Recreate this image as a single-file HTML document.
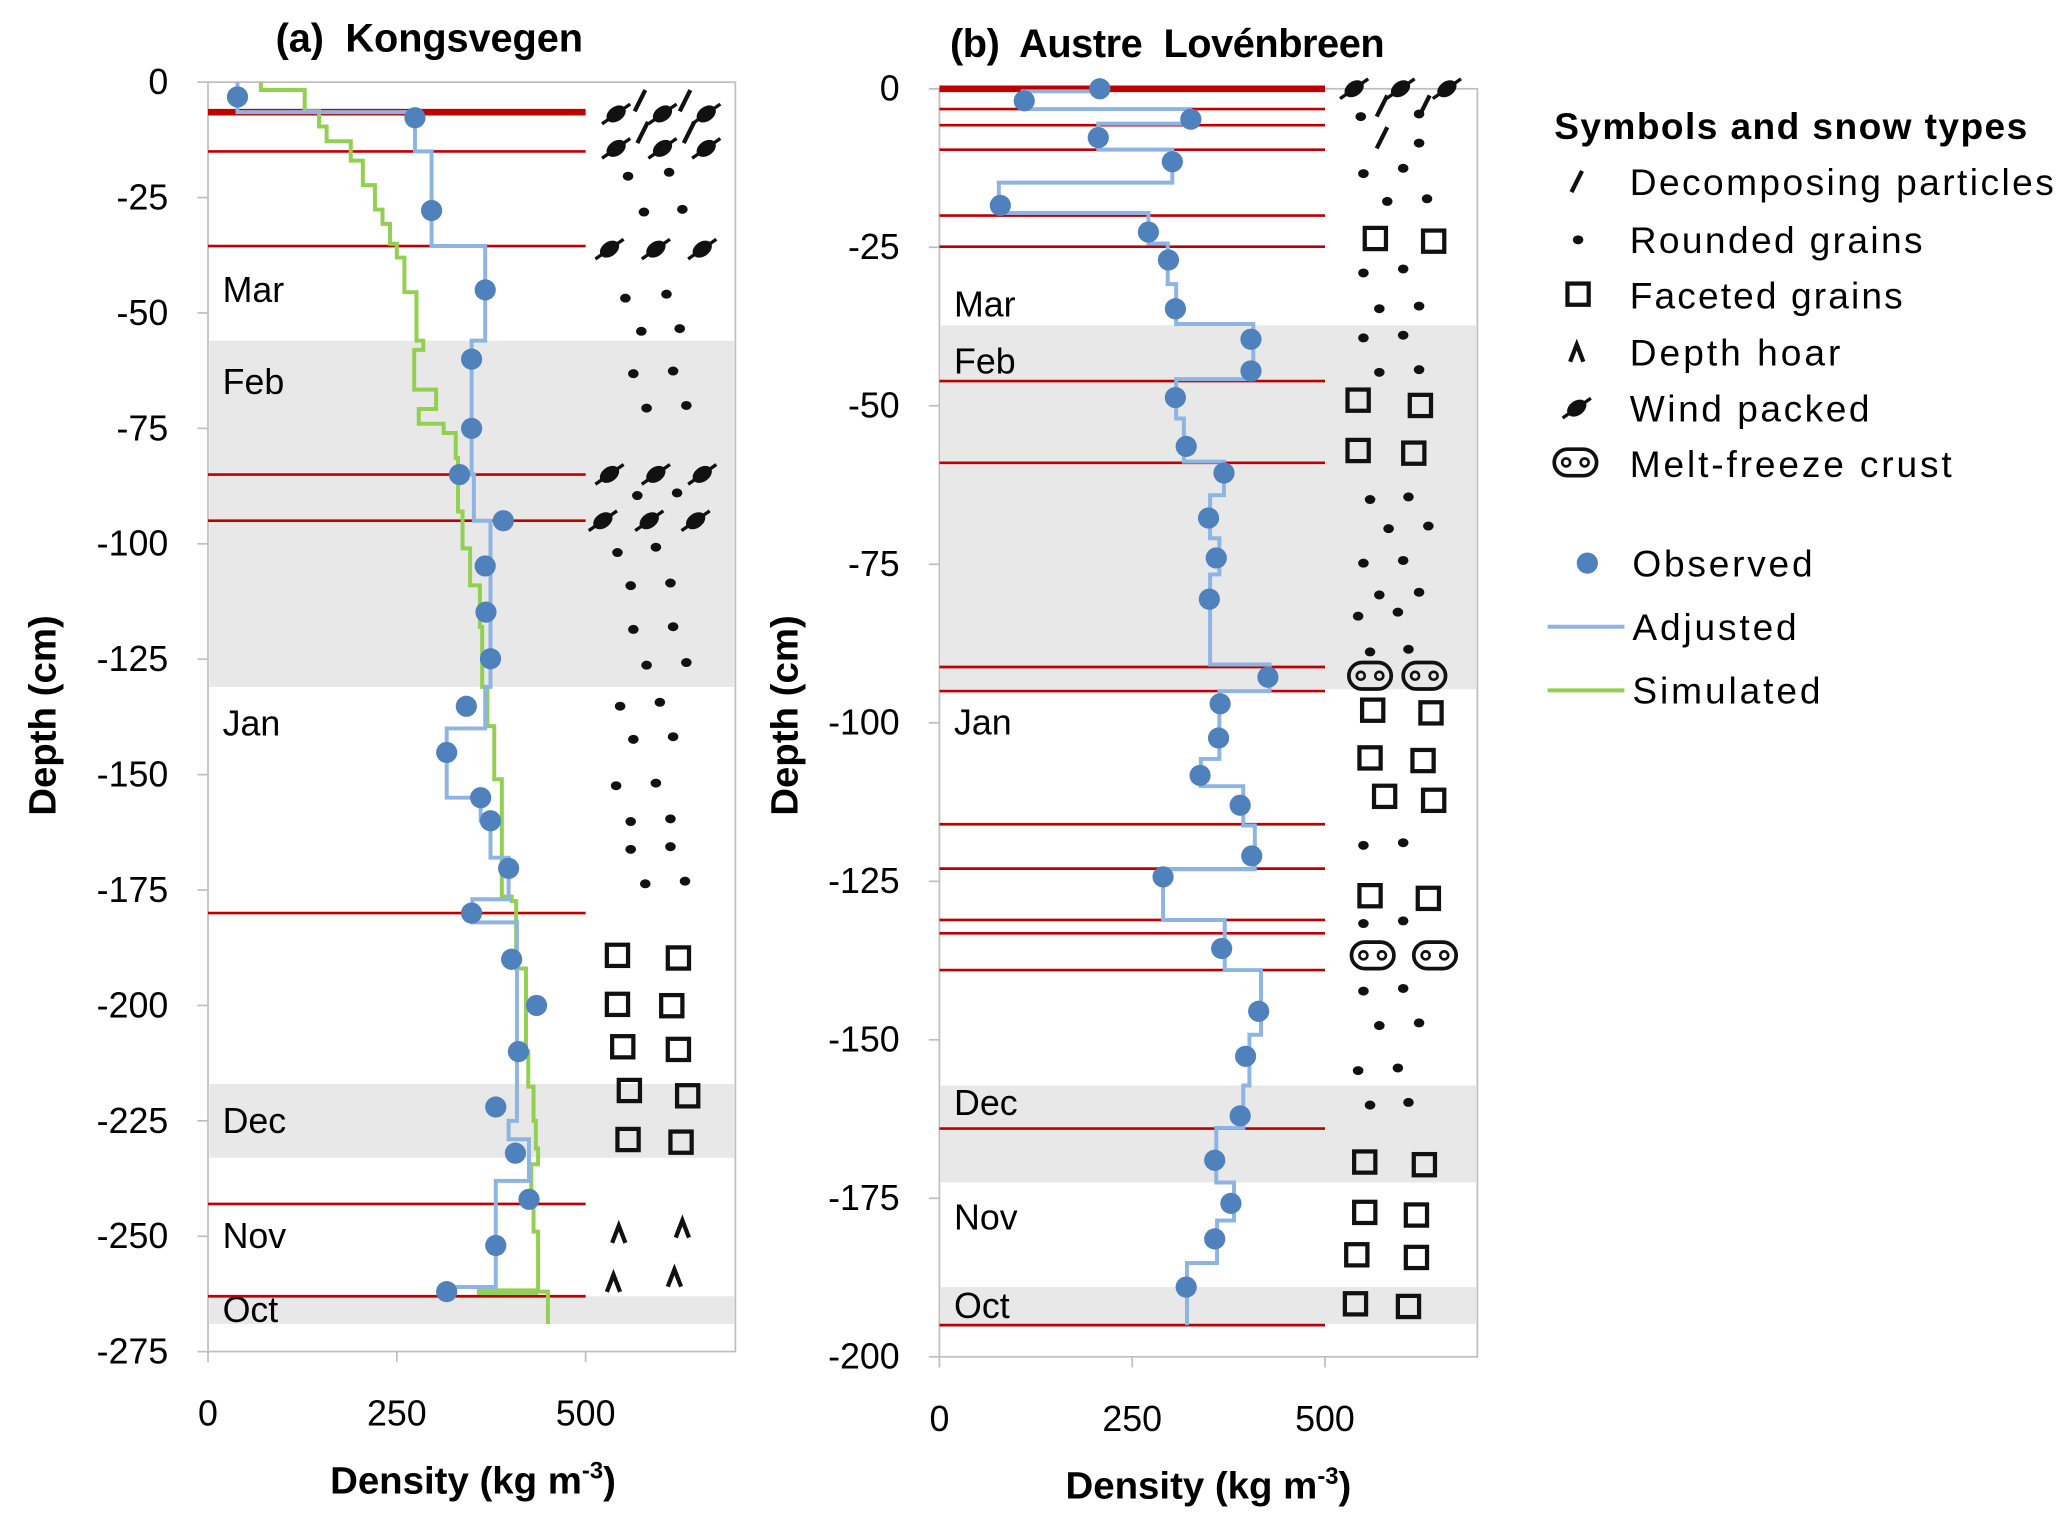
<!DOCTYPE html>
<html><head><meta charset="utf-8"><style>
html,body{margin:0;padding:0;background:#fff}
svg{display:block}
text{font-family:"Liberation Sans",sans-serif;fill:#000}
</style></head><body>
<svg id="fig" width="2067" height="1519" viewBox="0 0 1560 1146.4" preserveAspectRatio="none" xmlns="http://www.w3.org/2000/svg">
<g id="pa"></g>
<g id="pb"></g>
<g id="leg"></g>
</svg>
<script>
// ---------- Panel A data ----------
const aObsDensity = [39,274,296,367,349,349,333,391,367,368,374,342,316,361,374,398,349,402,435,411,381,407,425,381,316];
const aObsDepth = [3.2,7.7,27.8,45,60,75,85,95,104.8,114.8,124.9,135.2,145.2,155,160,170.3,180,190,200,210,222,232,242,252,262];
const aAdjTop = [0,6.5,15,35.5,56,85,95,131,140,155,160,168,177,182,225,229,238,261];
const aAdjDensity = [39,274,296,367,349,352,374,367,316,361,374,398,350,409,398,425,381,316];
const aAdjEnd = 263;
const aSimTop = [0,1.7,6.3,9.6,12.8,17,22.3,27.6,30.7,35,38,45.5,56,58,66.6,70.8,74,76,81.4,93,101,109,118,131,139.5,151,176.4,177.4,192,210,217.6,225,231,234.4,241.7,249,262];
const aSimDensity = [70,128,147,157,189,205,221,231,241,250,260,276,285,273,302,279,312,328,331,337,347,360,363,370,379,389,402,408,421,424,431,434,437,428,431,437,450];
const aSimEnd = 269;
const aRedLines = [6.5,15,35.5,85,95,180,243,263];
const aYTicks = [0,25,50,75,100,125,150,175,200,225,250,275];
const aXTicks = [0,250,500];
const aBands = [[56,131],[217,233],[263,269]];
const aMonths = ["Mar","Feb","Jan","Dec","Nov","Oct"];
const aMonthDepth = [45,65,139,225,250,266];
// ---------- Panel B data ----------
const bObsDensity = [208,110,326,206,302,79,271,297,306,404,404,306,320,369,349,359,350,426,364,362,338,390,405,290,366,414,397,390,357,378,357,320];
const bObsDepth = [0,1.9,4.8,7.7,11.5,18.4,22.6,27,34.7,39.5,44.5,48.7,56.4,60.6,67.7,74,80.5,92.8,97,102.4,108.3,113,121,124.3,135.6,145.5,152.6,162,169,175.8,181.4,189];
const bAdjTop = [0,0.4,3.2,5.5,9.6,14.8,19.6,24.4,30.8,37.1,45.8,52,58.8,64.1,70.9,76.6,90.8,95,105.7,110,116.2,123.1,131.1,139,149.2,157.2,163.9,172.5,178.5,185.2];
const bAdjDensity = [206,108,325,206,302,77,271,296,307,407,307,317,369,351,363,351,428,363,339,394,409,290,370,417,402,394,359,382,360,321];
const bAdjEnd = 195;
const bRedLines = [3.2,5.75,9.6,20,24.9,46.1,59,91.2,95,116,123,131.1,133.2,139,164,195];
const bYTicks = [0,25,50,75,100,125,150,175,200];
const bXTicks = [0,250,500];
const bBands = [[37.3,94.7],[157.2,172.5],[189,194.8]];
const bMonths = ["Mar","Feb","Jan","Dec","Nov","Oct"];
const bMonthDepth = [34,43,100,160,178,192];

const NS="http://www.w3.org/2000/svg";
function mk(parent,tag,attrs,txt){const e=document.createElementNS(NS,tag);for(const k in attrs)e.setAttribute(k,attrs[k]);if(txt!==undefined)e.textContent=txt;parent.appendChild(e);return e;}

function stepPath(tops,dens,end,X,Y){
  let d="M"+X(dens[0])+","+Y(tops[0]);
  for(let i=1;i<tops.length;i++){d+=" V"+Y(tops[i])+" H"+X(dens[i]);}
  d+=" V"+Y(end);return d;
}

function dot(g,x,y){const e=mk(g,"ellipse",{cx:x,cy:y,rx:4,ry:3.4,fill:"#111"});}
function sq(g,x,y){const e=mk(g,"rect",{x:x-8,y:y-8,width:16,height:16,fill:"none",stroke:"#111","stroke-width":3.2});}
function hoar(g,x,y){const e=mk(g,"path",{d:`M${x-5},${y+7} L${x},${y-6} L${x+5},${y+7}`,fill:"none",stroke:"#111","stroke-width":3.2});}
function slash(g,x,y){const e=mk(g,"line",{x1:x-4,y1:y+8,x2:x+4,y2:y-8,stroke:"#111","stroke-width":3.2});}
function wind(g,x,y){const w=mk(g,"g",{transform:`translate(${x},${y}) rotate(-35)`});
  mk(w,"ellipse",{cx:0,cy:0,rx:8,ry:5.5,fill:"#111"});mk(w,"line",{x1:-13,y1:0,x2:13,y2:0,stroke:"#111","stroke-width":2.5});}
function melt(g,x,y){const w=mk(g,"g",{});
  mk(w,"path",{d:`M${x-6},${y-10} H${x+6} A10,10 0 0 1 ${x+6},${y+10} H${x-6} A10,10 0 0 1 ${x-6},${y-10} Z`,fill:"none",stroke:"#111","stroke-width":2.8});
  mk(w,"circle",{cx:x-7,cy:y,r:3,fill:"none",stroke:"#111","stroke-width":2});mk(w,"circle",{cx:x+7,cy:y,r:3,fill:"none",stroke:"#111","stroke-width":2});}

function panel(gid,o){
  const g=document.getElementById(gid);
  const X=d=>o.x0+d*o.kx, Y=z=>o.y0+z*o.ky;
  const fr=mk(g,"rect",{x:o.x0,y:o.y0,width:o.right-o.x0,height:o.bottom-o.y0,fill:"#fff",stroke:"#bfbfbf","stroke-width":1.3});
  
  o.bands.forEach(b=>{const r=mk(g,"rect",{x:o.x0+1,y:Y(b[0]),width:o.right-o.x0-2,height:Y(b[1])-Y(b[0]),fill:"#e8e8e8"});
    });
  o.yt.forEach(t=>{const l=mk(g,"line",{x1:o.x0-8,y1:Y(t),x2:o.x0,y2:Y(t),stroke:"#bfbfbf","stroke-width":1.3});
    
    const tx=mk(g,"text",{x:o.x0-30,y:Y(t)+9,"font-size":27,"text-anchor":"end"},t===0?"0":"-"+t);
    });
  o.xt.forEach(t=>{const l=mk(g,"line",{x1:X(t),y1:o.bottom,x2:X(t),y2:o.bottom+8,stroke:"#bfbfbf","stroke-width":1.3});
    
    const tx=mk(g,"text",{x:X(t),y:o.bottom+56,"font-size":27,"text-anchor":"middle"},String(t));
    });
  o.months.forEach((m,i)=>{const tx=mk(g,"text",{x:o.x0+11,y:Y(o.mdep[i])+9,"font-size":27},m);
    });
  o.red.forEach((z,i)=>{const l=mk(g,"line",{x1:o.x0,y1:Y(z),x2:X(500),y2:Y(z),stroke:"#c00000","stroke-width":(i===0&&o.thickFirst)?5:2});
    });
  if(o.thickTop){const l=mk(g,"line",{x1:o.x0,y1:Y(0),x2:X(500),y2:Y(0),stroke:"#c00000","stroke-width":5});
    }
  if(o.simTop){const p=mk(g,"path",{d:stepPath(o.simTop,o.simD,o.simEnd,X,Y),fill:"none",stroke:"#92d050","stroke-width":3});
    
    const th=mk(g,"line",{x1:X(356),y1:Y(262),x2:X(437),y2:Y(262),stroke:"#92d050","stroke-width":5});
    }
  const ap=mk(g,"path",{d:stepPath(o.adjTop,o.adjD,o.adjEnd,X,Y),fill:"none",stroke:"#8db4e2","stroke-width":3});
  
  o.obsD.forEach((d,i)=>{const c=mk(g,"circle",{cx:X(d),cy:Y(o.obsZ[i]),r:8,fill:"#4f81bd"});
    });
  const xt=mk(g,"text",{x:o.xtx,y:o.bottom+107,"font-size":29,"font-weight":"bold","text-anchor":"middle"},"Density (kg m");
  
  mk(xt,"tspan",{"font-size":18,dy:-11},"-3");mk(xt,"tspan",{dy:11},")");
  const yt=mk(g,"text",{x:0,y:0,"font-size":29,"font-weight":"bold","text-anchor":"middle",transform:`translate(${o.ytx},540) rotate(-90)`},"Depth (cm)");
  
  const tt=mk(g,"text",{x:o.tx,y:o.ty,"font-size":30,"font-weight":"bold","word-spacing":8,textLength:o.tlen,lengthAdjust:"spacing"},o.title);
  
  const sg=mk(g,"g",{});
  o.sym(sg);
}

panel("pa",{x0:157,kx:0.57,y0:62,ky:3.484,right:555,bottom:1020,bands:aBands,yt:aYTicks,xt:aXTicks,months:aMonths,mdep:aMonthDepth,
  red:aRedLines,thickFirst:true,simTop:aSimTop,simD:aSimDensity,simEnd:aSimEnd,adjTop:aAdjTop,adjD:aAdjDensity,adjEnd:aAdjEnd,
  obsD:aObsDensity,obsZ:aObsDepth,xtx:357,ytx:42,tx:208,ty:39,tlen:232,title:"(a) Kongsvegen",
  sym:g=>{
    [[465,86],[500,86],[533,86],[465,112],[500,112],[533,112],[460,188],[495,188],[530,188],[460,358],[495,358],[530,358],[455,393],[490,393],[525,393]].forEach(p=>wind(g,p[0],p[1]));
    [[483,76],[517,76],[485,100],[520,100]].forEach(p=>slash(g,p[0],p[1]));
    [[474,133],[505,130],[486,160],[515,158],[472,225],[503,222],[484,250],[513,248],[478,282],[508,280],[488,308],[518,306],[481,374],[511,372],[466,417],[495,413],[476,442],[506,440],[478,475],[508,473],[488,502],[518,500],[468,533],[498,530],[478,558],[508,556],[465,593],[495,591],[476,620],[506,618],[476,641],[506,639],[487,667],[517,665]].forEach(p=>dot(g,p[0],p[1]));
    [[466,721],[512,723],[466,758],[507,759],[470,790],[512,792],[475,823],[519,827],[474,860],[514,862]].forEach(p=>sq(g,p[0],p[1]));
    [[467,931],[515,927],[463,968],[509,964]].forEach(p=>hoar(g,p[0],p[1]));
  }});

panel("pb",{x0:709,kx:0.582,y0:67,ky:4.785,right:1115,bottom:1024,bands:bBands,yt:bYTicks,xt:bXTicks,months:bMonths,mdep:bMonthDepth,
  red:bRedLines,thickTop:true,adjTop:bAdjTop,adjD:bAdjDensity,adjEnd:bAdjEnd,
  obsD:bObsDensity,obsZ:bObsDepth,xtx:912,ytx:602,tx:717,ty:43,tlen:328,title:"(b) Austre Lovénbreen",
  sym:g=>{
    [[1022,67],[1057,67],[1092,67]].forEach(p=>wind(g,p[0],p[1]));
    [[1043,80],[1075,80],[1043,104]].forEach(p=>slash(g,p[0],p[1]));
    [[1027,88],[1071,86],[1071,108],[1029,131],[1059,127],[1047,152],[1077,150],[1029,206],[1059,203],[1041,233],[1071,231],[1029,255],[1059,253],[1041,281],[1071,279],[1034,377],[1063,375],[1048,399],[1078,397],[1029,425],[1059,423],[1041,449],[1071,447],[1025,465],[1055,462],[1034,492],[1063,490],[1029,638],[1059,636],[1029,697],[1059,695],[1029,748],[1059,746],[1041,774],[1071,772],[1025,808],[1055,806],[1034,834],[1063,832]].forEach(p=>dot(g,p[0],p[1]));
    [[1038,180],[1082,182],[1025,302],[1072,306],[1025,340],[1067,342],[1036,536],[1080,538],[1034,572],[1074,574],[1045,601],[1082,604],[1034,676],[1078,678],[1030,877],[1075,879],[1030,915],[1069,917],[1024,947],[1069,949],[1023,984],[1063,986]].forEach(p=>sq(g,p[0],p[1]));
    [[1034,510],[1075,510],[1036,721],[1083,721]].forEach(p=>melt(g,p[0],p[1]));
  }});

const L=document.getElementById("leg");
const lt=mk(L,"text",{x:1173,y:105,"font-size":28,"font-weight":"bold",textLength:357,lengthAdjust:"spacing"},"Symbols and snow types");

const legItems=["Decomposing particles","Rounded grains","Faceted grains","Depth hoar","Wind packed","Melt-freeze crust"];
const legLen=[320,221,206,159,181,243];
const legY=[137,181,223,266,308,350];
legItems.forEach((s,i)=>{const t=mk(L,"text",{x:1230,y:legY[i]+10,"font-size":28,textLength:legLen[i],lengthAdjust:"spacing"},s);
  });
slash(L,1190,137);dot(L,1191,181);sq(L,1191,222);hoar(L,1190,266);wind(L,1190,308);melt(L,1189,349);
const lc=mk(L,"circle",{cx:1198,cy:425,r:8,fill:"#4f81bd"});
const l1=mk(L,"line",{x1:1168,y1:473,x2:1226,y2:473,stroke:"#8db4e2","stroke-width":3});
const l2=mk(L,"line",{x1:1168,y1:521,x2:1226,y2:521,stroke:"#92d050","stroke-width":3});
[["Observed",425,136],["Adjusted",473,124],["Simulated",521,142]].forEach(p=>{const t=mk(L,"text",{x:1232,y:p[1]+10,"font-size":28,textLength:p[2],lengthAdjust:"spacing"},p[0]);
  });
</script>
</body></html>
